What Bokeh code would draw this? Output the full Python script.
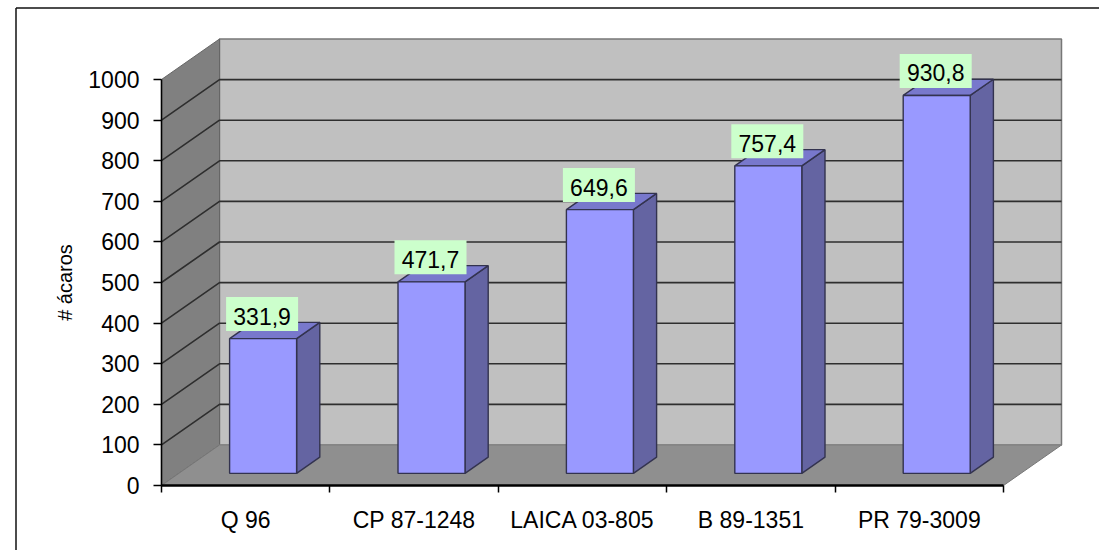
from bokeh.plotting import figure
from bokeh.models import Range1d, FixedTicker
from bokeh.core.properties import value
from bokeh.embed import file_html
from bokeh.resources import INLINE

# ---- data ----
categories = ["Q 96", "CP 87-1248", "LAICA 03-805", "B 89-1351", "PR 79-3009"]
acaros = [331.9, 471.7, 649.6, 757.4, 930.8]
point_labels = ["331,9", "471,7", "649,6", "757,4", "930,8"]
y_ticks = [0, 100, 200, 300, 400, 500, 600, 700, 800, 900, 1000]
y_title = "# ácaros"

# ---- 3D projection (style) ----
W, H = 1099, 550
PX_X = 168.4          # pixels per category
PX_Y = 0.406          # pixels per unit of value
ORIGIN_X, ORIGIN_Y = 161.0, 485.0   # axis origin inside the figure
DX = 58 / PX_X        # depth of chart box in category units
DY = 40.5 / PX_Y      # depth of chart box in value units
D0, D1 = 0.30, 0.70   # bar front/back depth fraction
HALF = 33.5 / PX_X
YMAX = y_ticks[-1]
N = len(categories)
FONT = "Liberation Sans"

x_range = Range1d(-ORIGIN_X / PX_X, (W - ORIGIN_X) / PX_X)
y_range = Range1d(-(H - ORIGIN_Y) / PX_Y, ORIGIN_Y / PX_Y)

p = figure(width=W, height=H, x_range=x_range, y_range=y_range,
           output_backend="svg", toolbar_location=None,
           min_border=0, min_border_left=0, min_border_right=0,
           min_border_top=0, min_border_bottom=0,
           background_fill_color="white", border_fill_color="white")
p.outline_line_color = None
p.grid.visible = False

# outer chart border: only left and top are within the picture
bx = x_range.start + 15.5 / PX_X
by = y_range.end - 7.5 / PX_Y
p.segment(x0=[bx, bx], y0=[y_range.start, by], x1=[bx, x_range.end], y1=[by, by],
          line_color="#111111", line_width=1.5)

# walls and floor
p.patch([DX, N + DX, N + DX, DX], [DY, DY, YMAX + DY, YMAX + DY],
        fill_color="#C0C0C0", line_color="#777777", line_width=1.5)
p.patch([0, DX, DX, 0], [0, DY, YMAX + DY, YMAX],
        fill_color="#808080", line_color="#666666", line_width=1)
p.patch([0, N, N + DX, DX], [0, 0, DY, DY],
        fill_color="#8F8F8F", line_color="#777777", line_width=1)

# gridlines on both walls
grid_ticks = y_ticks[1:-1]
p.multi_line([[0, DX, N + DX] for _ in grid_ticks],
             [[t, t + DY, t + DY] for t in grid_ticks],
             line_color="#2E2E2E", line_width=1.6)
p.line([DX, N + DX], [DY, DY], line_color="#8A8A8A", line_width=1.2)

# bars
xc = [i + 0.5 + D0 * DX for i in range(N)]
lefts = [c - HALF for c in xc]
rights = [c + HALF for c in xc]
base = D0 * DY
sx = (D1 - D0) * DX
sy = (D1 - D0) * DY
tops = [v + base for v in acaros]
bar_line = "#33334F"
p.patches([[r, r + sx, r + sx, r] for r in rights],
          [[base, base + sy, t + sy, t] for t in tops],
          fill_color="#6464A2", line_color=bar_line, line_width=1.4)
p.patches([[l, r, r + sx, l + sx] for l, r in zip(lefts, rights)],
          [[t, t, t + sy, t + sy] for t in tops],
          fill_color="#7878CC", line_color=bar_line, line_width=1.4)
p.quad(left=lefts, right=rights, bottom=[base] * N, top=tops,
       fill_color="#9999FF", line_color=bar_line, line_width=1.4)

# data labels
LABEL_GAP = 24.5 / PX_Y
lab_x = [c - 1 / PX_X for c in xc]
lab_y = [t + LABEL_GAP for t in tops]
p.rect(x=lab_x, y=lab_y, width=72, height=34, width_units="screen", height_units="screen",
       fill_color="#CCFFCC", line_color=None)
p.text(x=lab_x, y=lab_y, y_offset=2, text=point_labels, text_align="center", text_baseline="middle",
       text_font=value(FONT), text_font_size="23px", text_color="#000000")

# axes
yax = p.yaxis[0]
yax.fixed_location = 0
yax.bounds = (0, YMAX)
yax.ticker = FixedTicker(ticks=y_ticks)
yax.minor_tick_line_color = None
yax.major_tick_out = 8
yax.major_tick_in = 0
yax.major_tick_line_color = "#000000"
yax.major_tick_line_width = 1.5
yax.axis_line_color = "#000000"
yax.axis_line_width = 1.6
yax.major_label_text_font = FONT
yax.major_label_text_font_size = "23px"
yax.major_label_text_color = "#000000"
yax.major_label_standoff = 14
yax.axis_label = y_title
yax.axis_label_text_font = FONT
yax.axis_label_text_font_size = "20px"
yax.axis_label_text_font_style = "normal"
yax.axis_label_text_color = "#000000"
yax.axis_label_standoff = 9
yax.level = "overlay"

xax = p.xaxis[0]
xax.fixed_location = 0
xax.bounds = (0, N)
xax.ticker = FixedTicker(ticks=[i + 0.5 for i in range(N)], minor_ticks=list(range(N + 1)))
xax.major_label_overrides = {i + 0.5: c for i, c in enumerate(categories)}
xax.major_tick_line_color = None
xax.minor_tick_out = 7
xax.minor_tick_in = 0
xax.minor_tick_line_color = "#000000"
xax.minor_tick_line_width = 1.5
xax.axis_line_color = "#000000"
xax.axis_line_width = 2.5
xax.major_label_text_font = FONT
xax.major_label_text_font_size = "23px"
xax.major_label_text_color = "#000000"
xax.major_label_standoff = 14
xax.level = "overlay"

open("out.html", "w").write(file_html(p, INLINE))
